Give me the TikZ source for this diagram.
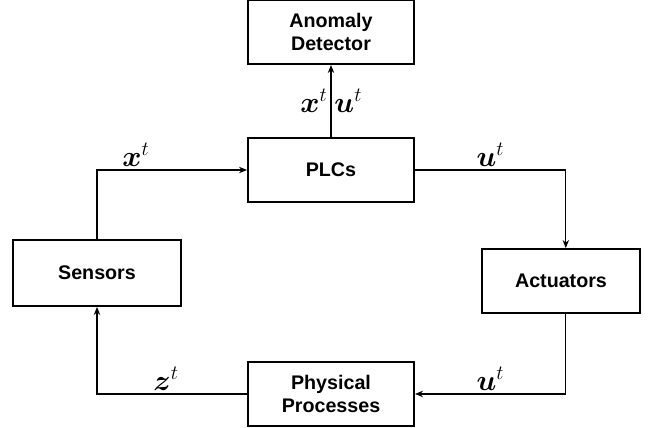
\documentclass[tikz,border=0pt]{standalone}
\usepackage{amsmath}
\usepackage{fontspec}
\setmainfont{Liberation Sans}
\usetikzlibrary{arrows.meta, positioning}

\begin{document}
\begin{tikzpicture}[
    module/.style={rectangle, draw=black, line width=1.4pt, minimum width=4.15cm, minimum height=1.6cm, align=center, font=\fontsize{14}{16.5}\selectfont\bfseries},
    arrow/.style={-{Stealth[length=2mm, width=1.6mm]}, line width=0.9pt},
    sig/.style={font=\fontsize{22}{26}\selectfont, inner sep=2pt}
]
\useasboundingbox (-8.275,-6.425) rectangle (8.175,4.25);

% Controller and detector
\node[module] (plcs) {PLCs};
\node[module, above=1.8cm of plcs] (detector) {Anomaly\\Detector};

% Plant side
\node[module, below=3.95cm of plcs] (physical) {Physical\\Processes};
\node[module, minimum width=4.2cm, minimum height=1.65cm] (sensors) at (-5.85,-2.575) {Sensors};
\node[module, minimum width=3.95cm] (actuators) at (5.75,-2.775) {Actuators};

% Signal flow
\draw[arrow] (plcs) -- node[sig, left] {$\boldsymbol{x}^{t}$} node[sig, right] {$\boldsymbol{u}^{t}$} (detector);
\draw[arrow] (sensors.north) |- node[sig, pos=0.63, above] {$\boldsymbol{x}^{t}$} (plcs.west);
\draw[arrow] (plcs.east) -| node[sig, pos=0.25, above] {$\boldsymbol{u}^{t}$} ([xshift=0.12cm]actuators.north);
\draw[arrow] ([xshift=0.12cm]actuators.south) |- node[sig, pos=0.75, above] {$\boldsymbol{u}^{t}$} (physical.east);
\draw[arrow] (physical.west) -| node[sig, pos=0.27, above] {$\boldsymbol{z}^{t}$} (sensors.south);
\end{tikzpicture}
\end{document}
